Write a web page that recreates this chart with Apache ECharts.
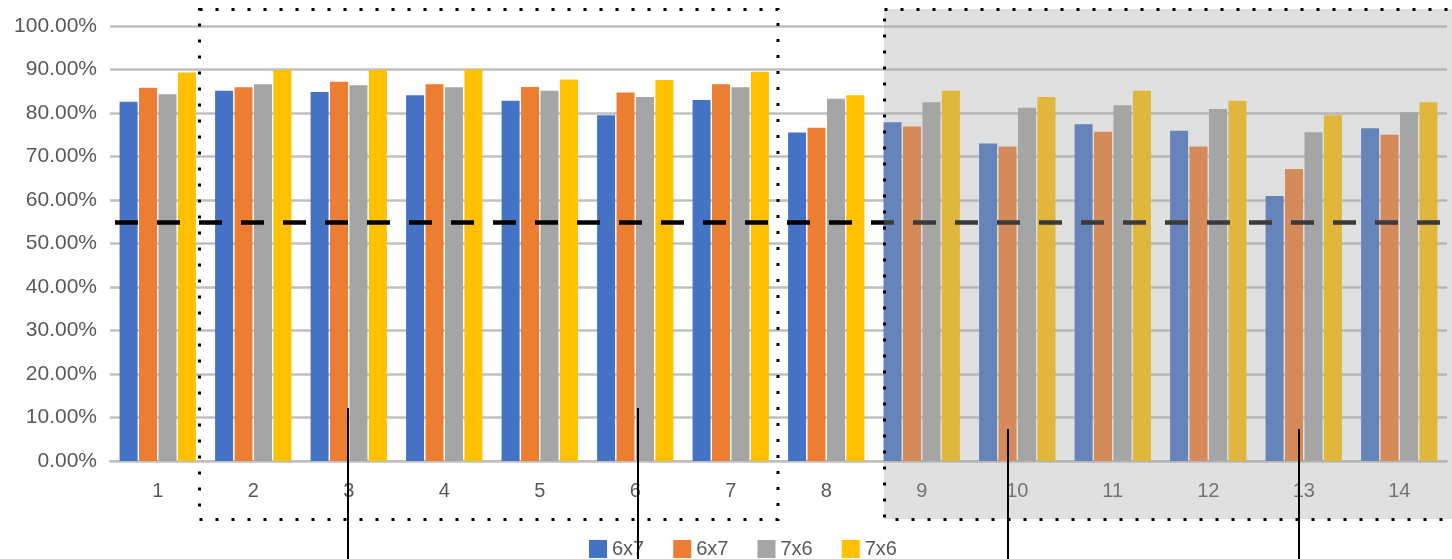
<!DOCTYPE html>
<html>
<head>
<meta charset="utf-8">
<script src="https://cdn.jsdelivr.net/npm/echarts@6/dist/echarts.min.js"></script>
<style>
html,body{margin:0;padding:0;background:#fff;}
#chart{width:1452px;height:559px;}
</style>
</head>
<body>
<div id="chart"></div>
<script>
// ---- data ----
const categories = ['1','2','3','4','5','6','7','8','9','10','11','12','13','14'];
const seriesKeys = ['s1','s2','s3','s4'];
const legendLabels = ['6x7','6x7','7x6','7x6'];
const blue6x7   = [82.6, 85.1, 84.8, 84.1, 82.8, 79.5, 83.0, 75.5, 77.9, 73.0, 77.4, 75.9, 60.9, 76.5];
const orange6x7 = [85.8, 85.9, 87.2, 86.6, 86.0, 84.7, 86.6, 76.6, 76.9, 72.3, 75.7, 72.3, 67.1, 75.0];
const grey7x6   = [84.3, 86.6, 86.4, 85.9, 85.1, 83.7, 85.9, 83.3, 82.5, 81.2, 81.8, 80.9, 75.6, 80.2];
const yellow7x6 = [89.3, 89.9, 89.9, 90.0, 87.7, 87.6, 89.5, 84.1, 85.1, 83.7, 85.1, 82.8, 79.5, 82.5];
const thresholdValue = 54.8;
const yTicks = [0,10,20,30,40,50,60,70,80,90,100];

const colors = ['#4472C4','#ED7D31','#A5A5A5','#FFC000'];
const values = [blue6x7, orange6x7, grey7x6, yellow7x6];
const FONT = '"Liberation Sans", Arial, sans-serif';
const TXT = '#595959';

const chart = echarts.init(document.getElementById('chart'), null, {renderer:'canvas'});

const series = seriesKeys.map((k, i) => {
  const s = {
    name: k,
    type: 'bar',
    data: values[i],
    barWidth: 18,
    barGap: '8%',
    itemStyle: { color: colors[i] },
    emphasis: { disabled: true },
    animation: false
  };
  if (i === 0) {
    s.markLine = {
      silent: true,
      symbol: ['none','none'],
      label: { show: false },
      lineStyle: { color: '#000', width: 4.5, type: [23, 19], dashOffset: -5 },
      data: [{ yAxis: thresholdValue }],
      animation: false,
      z: 5
    };
  }
  return s;
});

const dotted = { stroke: '#000', lineWidth: 3, lineDash: [3, 13], fill: null };

chart.setOption({
  animation: false,
  textStyle: { fontFamily: FONT },
  grid: { left: 110, right: 5, top: 26, bottom: 98 },
  legend: {
    data: seriesKeys,
    left: 584,
    top: 534,
    itemWidth: 18,
    itemHeight: 18,
    itemGap: 29,
    icon: 'rect',
    selectedMode: false,
    formatter: name => legendLabels[seriesKeys.indexOf(name)],
    textStyle: { color: TXT, fontSize: 20, fontFamily: FONT }
  },
  xAxis: {
    type: 'category',
    data: categories,
    axisTick: { show: false },
    axisLine: { lineStyle: { color: '#bfbfbf', width: 2 } },
    axisLabel: { color: TXT, fontSize: 20, fontFamily: FONT, margin: 20 }
  },
  yAxis: {
    type: 'value',
    min: yTicks[0],
    max: yTicks[yTicks.length - 1],
    interval: 10,
    axisLine: { show: false },
    axisTick: { show: false },
    splitLine: { lineStyle: { color: '#bfbfbf', width: 2.5 } },
    axisLabel: { color: TXT, fontSize: 21, fontFamily: FONT, margin: 13,
      formatter: v => v.toFixed(2) + '%' }
  },
  series: series,
  graphic: [
    { type: 'rect', z: 50, silent: true,
      shape: { x: 884, y: 9, width: 600, height: 510 },
      style: { fill: 'rgba(166,166,166,0.35)' } },
    { type: 'rect', z: 60, silent: true,
      shape: { x: 199.5, y: 9.5, width: 578.5, height: 510 },
      style: dotted },
    { type: 'rect', z: 60, silent: true,
      shape: { x: 884.5, y: 9.5, width: 600, height: 510 },
      style: dotted },
    { type: 'line', z: 70, silent: true,
      shape: { x1: 348, y1: 408, x2: 348, y2: 560 },
      style: { stroke: '#000', lineWidth: 2 } },
    { type: 'line', z: 70, silent: true,
      shape: { x1: 638, y1: 408, x2: 638, y2: 560 },
      style: { stroke: '#000', lineWidth: 2 } },
    { type: 'line', z: 70, silent: true,
      shape: { x1: 1008, y1: 429, x2: 1008, y2: 560 },
      style: { stroke: '#000', lineWidth: 2 } },
    { type: 'line', z: 70, silent: true,
      shape: { x1: 1299, y1: 429, x2: 1299, y2: 560 },
      style: { stroke: '#000', lineWidth: 2 } }
  ]
});
</script>
</body>
</html>
